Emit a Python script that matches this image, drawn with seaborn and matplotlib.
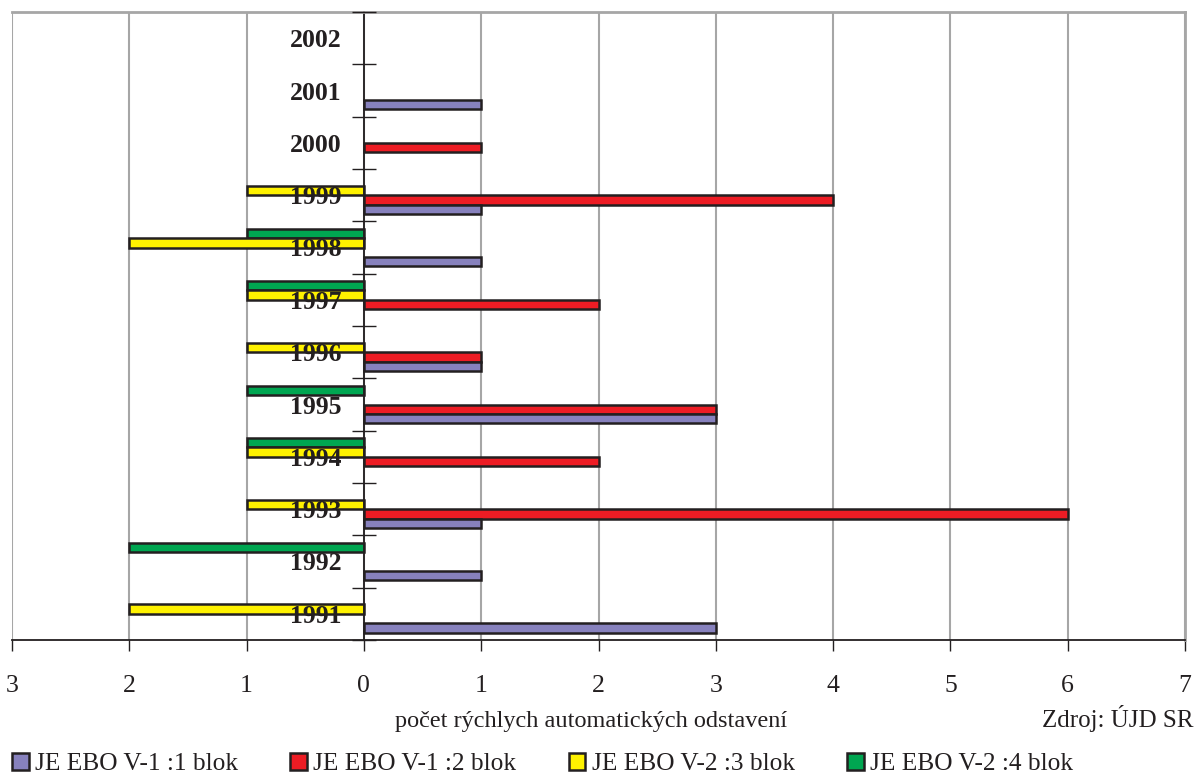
import numpy as np
import pandas as pd
import matplotlib
matplotlib.use("Agg")
import matplotlib.pyplot as plt
from matplotlib.patches import Patch
import seaborn as sns

# data (top row first)
roky = ['2002', '2001', '2000', '1999', '1998', '1997',
        '1996', '1995', '1994', '1993', '1992', '1991']
blok1 = [0, 1, 0, 1, 1, 0, 1, 3, 0, 1, 1, 3]   # JE EBO V-1 :1 blok
blok2 = [0, 0, 1, 4, 0, 2, 1, 3, 2, 6, 0, 0]   # JE EBO V-1 :2 blok
blok3 = [0, 0, 0, 1, 2, 1, 1, 0, 1, 1, 0, 2]   # JE EBO V-2 :3 blok
blok4 = [0, 0, 0, 0, 1, 1, 0, 1, 1, 0, 2, 0]   # JE EBO V-2 :4 blok

nazvy = ['JE EBO V-1 :1 blok', 'JE EBO V-1 :2 blok',
         'JE EBO V-2 :3 blok', 'JE EBO V-2 :4 blok']
farby = ['#8781BD', '#ED1C24', '#FFF200', '#00A651']

# V-2 bloky sa kreslia nalavo (zaporne hodnoty)
rows = []
for nazov, hodnoty, znak in zip(nazvy, [blok1, blok2, blok3, blok4], [1, 1, -1, -1]):
    for rok, h in zip(roky, hodnoty):
        if h:
            rows.append({'rok': rok, 'blok': nazov, 'pocet': znak * h})
df = pd.DataFrame(rows)

sns.set_theme(style="white")
plt.rcParams['font.family'] = ['Liberation Serif', 'DejaVu Serif']

tmava = '#231F20'
seda = '#A6A6A6'

fig = plt.figure(figsize=(11.98, 7.75), dpi=100)
ax = fig.add_axes([12 / 1198, 1 - 640 / 775, (1185 - 12) / 1198, (640 - 12) / 775])

sns.barplot(data=df, x='pocet', y='rok', hue='blok', order=roky,
            hue_order=nazvy[::-1], palette=dict(zip(nazvy, farby)),
            saturation=1, width=0.72, edgecolor=tmava, linewidth=1.8,
            orient='h', errorbar=None, legend=False, ax=ax)

# os y ide cez nulu (set_position resetuje ticky, preto ako prve)
ax.spines['left'].set_position(('data', 0))
ax.spines['left'].set_color(tmava)
ax.spines['left'].set_linewidth(1.3)
ax.spines['bottom'].set_color(tmava)
ax.spines['bottom'].set_linewidth(1.3)
for s in ['top', 'right']:
    ax.spines[s].set_color(seda)
    ax.spines[s].set_linewidth(2)

ax.set_xlim(-3, 7)
ax.set_ylim(11.5, -0.5)
ax.set_xlabel('')
ax.set_ylabel('')

ax.set_xticks(range(-3, 8))
ax.set_xticklabels([str(abs(v)) for v in range(-3, 8)])
ax.tick_params(axis='x', which='major', bottom=True, length=8, width=1,
               color=tmava, pad=17, labelsize=18.5, labelcolor=tmava)
ax.xaxis.grid(True, color=seda, lw=1.5)
ax.yaxis.grid(False)

ax.set_yticks(range(len(roky)))
ax.set_yticks(np.arange(-0.5, 12, 1), minor=True)
ax.tick_params(axis='y', which='major', left=True, length=0, pad=16,
               labelsize=18.5, labelcolor=tmava)
ax.tick_params(axis='y', which='minor', left=True, length=17, width=1,
               direction='inout', color=tmava)
ax.set_yticklabels(roky, fontweight='bold')

ax.set_axisbelow(True)
ax.yaxis.set_zorder(4)

fig.text(591 / 1198, 1 - 721 / 775, 'počet rýchlych automatických odstavení',
         ha='center', va='center', fontsize=17.5, color=tmava)
fig.text(1193 / 1198, 1 - 719 / 775, 'Zdroj: ÚJD SR',
         ha='right', va='center', fontsize=18, color=tmava)

handles = [Patch(facecolor=c, edgecolor=tmava, linewidth=1.8) for c in farby]
fig.legend(handles, nazvy, loc='center left', bbox_to_anchor=(12 / 1198, 1 - 764 / 775),
           ncol=4, frameon=False, fontsize=18.3, handlelength=0.65, handleheight=0.7,
           handletextpad=0.25, columnspacing=2.07, borderpad=0, borderaxespad=0,
           labelcolor=tmava)

fig.savefig('out.png', dpi=100)
